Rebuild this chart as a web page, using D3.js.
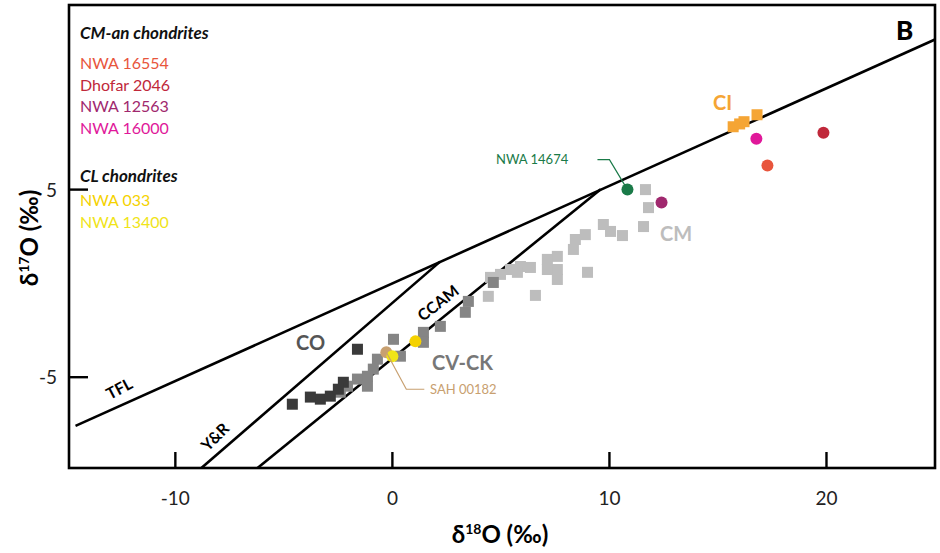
<!DOCTYPE html>
<html><head><meta charset="utf-8">
<script src="https://cdn.jsdelivr.net/npm/d3@7"></script>
<style>body{margin:0;background:#fff}text{font-family:"Lato","Open Sans",sans-serif}</style>
</head><body><svg id="c" width="940" height="553"></svg>
<script>
// Oxygen isotope plot, panel B
const xTicks = [-10, 0, 10, 20];
const yTicks = [-5, 5];

const cmSquares = [[11.66,5.0],[11.8,4.04],[11.57,3.03],[9.72,3.14],[10.05,2.77],[10.6,2.55],[8.89,2.6],
  [8.43,2.34],[8.34,1.81],[7.6,1.44],[7.14,1.28],[7.6,0.74],[7.14,0.74],[7.6,0.21],[8.99,0.59],[6.36,0.85],
  [5.9,0.9],[5.44,0.74],[4.98,0.48],[4.52,0.32],[4.42,-0.69],[6.59,-0.64],[5.76,0.59]];
const cvckSquares = [[4.65,0.05],[3.5,-0.96],[3.36,-1.54],[2.21,-2.29],[1.43,-2.61],[1.43,-3.14],[0.05,-2.98],
  [0.37,-3.88],[-0.69,-4.04],[-0.88,-4.57],[-1.15,-4.95],[-1.61,-5.1],[-2.07,-5.48],[-1.15,-5.48],[-2.4,-5.8]];
const coSquares = [[-1.61,-3.51],[-4.61,-6.44],[-3.32,-6.17],[-2.86,-6.01],[-2.26,-5.27],[-2.49,-5.64],[-3.78,-6.06]];
const ciSquares = [[15.7,8.35],[16.2,8.62],[16.0,8.5],[16.8,8.99]];

const samples = [
  {name:'NWA 16554', x:17.28, y:6.28, color:'#e8553c'},
  {name:'Dhofar 2046', x:19.86, y:8.03, color:'#c0283a'},
  {name:'NWA 12563', x:12.4, y:4.31, color:'#a0286e'},
  {name:'NWA 16000', x:16.77, y:7.71, color:'#e0189a'},
  {name:'NWA 033', x:1.06, y:-3.09, color:'#f5d200'},
  {name:'SAH 00182', x:-0.28, y:-3.67, color:'#c8a070'},
  {name:'NWA 13400', x:0.0, y:-3.88, color:'#f0e418'},
  {name:'NWA 14674', x:10.83, y:5.0, color:'#1a7a48'}
];
const legendCMan = ['NWA 16554','Dhofar 2046','NWA 12563','NWA 16000'];
const legendCL = ['NWA 033','NWA 13400'];

// reference lines: slope, intercept, x range
const refLines = [
  {name:'TFL', slope:0.52, icpt:0, x0:-14.6, x1:25},
  {name:'Y&R', slope:1.0, icpt:-1.04, x0:-8.8, x1:2.2},
  {name:'CCAM', slope:0.94, icpt:-4.0, x0:-6.4, x1:9.6}
];

const svg = d3.select('#c');
const L = 69, R = 935, T = 5, B = 468;
const x = d3.scaleLinear().domain([-14.9, 25]).range([L, R]);
const y = d3.scaleLinear().domain([-9.84, 14.84]).range([B, T]);
const clip = svg.append('clipPath').attr('id','cl').append('rect').attr('x',L).attr('y',T).attr('width',R-L).attr('height',B-T);
const g = svg.append('g').attr('clip-path','url(#cl)');

refLines.forEach(l => {
  g.append('line').attr('x1', x(l.x0)).attr('y1', y(l.slope*l.x0+l.icpt))
    .attr('x2', x(l.x1)).attr('y2', y(l.slope*l.x1+l.icpt))
    .attr('stroke','#000').attr('stroke-width',2.6);
});

function squares(data, color) {
  g.selectAll(null).data(data).enter().append('rect')
    .attr('x', d => x(d[0]) - 5.5).attr('y', d => y(d[1]) - 5.5)
    .attr('width', 11).attr('height', 11).attr('fill', color);
}
squares(cmSquares, '#bdbdbd');
squares(cvckSquares, '#858585');
squares(coSquares, '#3a3a3a');
squares(ciSquares, '#f5a535');

// leader lines
const byName = Object.fromEntries(samples.map(s => [s.name, s]));
const p14 = byName['NWA 14674'];
svg.append('path').attr('d', `M${x(p14.x)-30},${y(p14.y)-30} h12 L${x(p14.x)},${y(p14.y)}`)
  .attr('fill','none').attr('stroke','#1a7a48').attr('stroke-width',1.2);
const pS = byName['SAH 00182'];
svg.append('path').attr('d', `M${x(pS.x)},${y(pS.y)} L${x(pS.x)+20},${y(pS.y)+37} h18`)
  .attr('fill','none').attr('stroke','#c8a070').attr('stroke-width',1.2);

g.selectAll(null).data(samples).enter().append('circle')
  .attr('cx', d => x(d.x)).attr('cy', d => y(d.y)).attr('r', 6).attr('fill', d => d.color);

// frame and ticks
svg.append('rect').attr('x',L).attr('y',T).attr('width',R-L).attr('height',B-T)
  .attr('fill','none').attr('stroke','#000').attr('stroke-width',2.6);
xTicks.forEach(t => {
  svg.append('line').attr('x1',x(t)).attr('x2',x(t)).attr('y1',B).attr('y2',B-16).attr('stroke','#000').attr('stroke-width',2.4);
  svg.append('text').attr('x',x(t)).attr('y',B+37).attr('text-anchor','middle').attr('font-size',19).attr('fill','#222').text(t);
});
yTicks.forEach(t => {
  svg.append('line').attr('x1',L).attr('x2',L+19).attr('y1',y(t)).attr('y2',y(t)).attr('stroke','#000').attr('stroke-width',2.4);
  svg.append('text').attr('x',L-12).attr('y',y(t)+7).attr('text-anchor','end').attr('font-size',19).attr('fill','#222').text(t);
});

// axis titles
const xt = svg.append('text').attr('x',500).attr('y',543).attr('text-anchor','middle').attr('font-size',24).attr('font-weight',700);
xt.append('tspan').text('δ');
xt.append('tspan').attr('font-size',14).attr('dy',-9).text('18');
xt.append('tspan').attr('dy',9).text('O (‰)');
const yt = svg.append('text').attr('transform','translate(38,238) rotate(-90)').attr('text-anchor','middle').attr('font-size',24).attr('font-weight',700);
yt.append('tspan').text('δ');
yt.append('tspan').attr('font-size',14).attr('dy',-9).text('17');
yt.append('tspan').attr('dy',9).text('O (‰)');

// in-plot labels
function lab(t, px, py, opt) {
  svg.append('text').attr('transform', `translate(${px},${py}) rotate(${opt.rot||0})`)
    .attr('font-size', opt.size||19).attr('font-weight', opt.w||400).attr('fill', opt.c||'#000')
    .attr('text-anchor', opt.a||'start').text(t);
}
lab('B', 896, 40, {size:26, w:900});
lab('CI', 713, 110, {size:20, w:700, c:'#f5a535'});
lab('CM', 660, 241, {size:20, w:700, c:'#bdbdbd'});
lab('CO', 296, 350, {size:20, w:700, c:'#555'});
lab('CV-CK', 432, 370, {size:20, w:700, c:'#777'});
lab('CCAM', 423, 322, {size:16, w:700, rot:-38});
lab('TFL', 110, 400, {size:16, w:700, rot:-28});
lab('Y&R', 208, 452, {size:16, w:700, rot:-45});
lab('NWA 14674', 496, 164, {size:13, c:'#1a7a48'});
lab('SAH 00182', 430, 394, {size:13, c:'#c8a070'});

// legend
lab('CM-an chondrites', 80, 39, {size:17, w:700, c:'#111'});
svg.select('text:last-child').attr('font-style','italic');
legendCMan.forEach((n, i) => lab(n, 80, 69 + i*21.5, {size:16, c:byName[n].color}));
lab('CL chondrites', 80, 182, {size:17, w:700, c:'#111'});
svg.select('text:last-child').attr('font-style','italic');
legendCL.forEach((n, i) => lab(n, 80, 206 + i*21.5, {size:16, c:byName[n].color}));
</script></body></html>
